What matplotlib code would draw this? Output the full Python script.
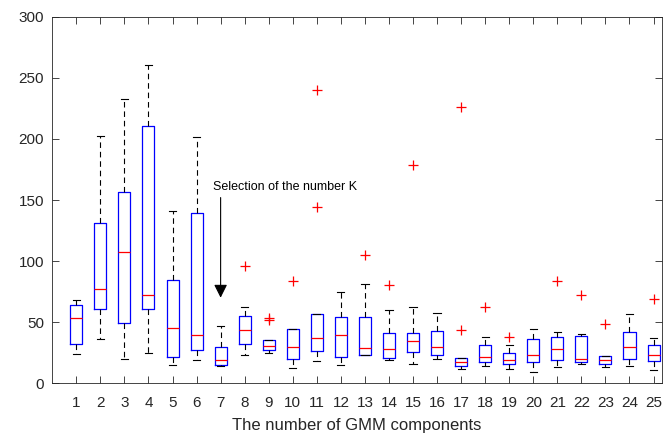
import matplotlib
matplotlib.use("Agg")
import matplotlib.pyplot as plt

plt.rcParams['font.family'] = ['Liberation Sans', 'DejaVu Sans']

# number of GMM components
components = list(range(1, 26))

# box statistics
whisker_low = [24.0, 36.5, 19.5, 24.5, 14.8, 19.1, 14.2, 22.9, 24.5, 12.6,
               18.5, 15.2, 22.9, 18.8, 15.9, 19.9, 11.7, 14.2, 11.5, 9.5,
               13.6, 16.0, 13.3, 13.9, 11.1]
q1 = [32.2, 60.5, 49.1, 61.0, 21.5, 27.2, 15.0, 32.2, 27.0, 19.8,
      26.2, 21.3, 22.9, 20.7, 25.9, 22.9, 13.9, 17.4, 15.5, 17.2,
      18.8, 17.7, 15.8, 19.9, 18.5]
medians = [53.2, 77.2, 107.2, 72.3, 44.8, 39.5, 18.8, 43.4, 30.3, 29.7,
           37.1, 39.8, 28.6, 27.8, 34.9, 30.0, 17.2, 21.5, 18.8, 23.2,
           28.1, 19.9, 19.3, 29.7, 23.2]
q3 = [63.8, 130.9, 156.8, 210.6, 84.5, 139.4, 30.0, 54.8, 35.4, 44.4,
      56.4, 54.0, 54.5, 41.4, 41.2, 43.0, 20.4, 31.6, 24.5, 36.0,
      38.2, 38.5, 22.6, 41.7, 31.6]
whisker_high = [68.4, 202.6, 232.4, 260.5, 141.2, 201.8, 46.9, 62.7, 35.4, 44.4,
                56.4, 74.5, 81.5, 60.2, 62.8, 57.8, 20.4, 37.6, 31.3, 44.7,
                42.2, 40.1, 22.6, 57.0, 37.3]
outliers = [[], [], [], [], [], [], [], [96.0], [52.0, 53.0], [83.5],
            [144.0, 240.0], [], [104.7], [80.6], [178.9], [], [43.4, 225.9],
            [62.7], [37.9], [], [84.0], [72.3], [48.5], [], [69.2]]

stats = []
for i in range(len(components)):
    stats.append(dict(med=medians[i], q1=q1[i], q3=q3[i],
                      whislo=whisker_low[i], whishi=whisker_high[i],
                      fliers=outliers[i]))

fig = plt.figure(figsize=(6.7, 4.42), dpi=100)
ax = fig.add_axes([0.078, 0.133, 0.91, 0.829])

axis_grey = (0.15, 0.15, 0.15)

ax.bxp(stats, positions=components, widths=0.5, capwidths=0.3,
       boxprops=dict(color='blue', linewidth=0.9),
       medianprops=dict(color='red', linewidth=0.9),
       whiskerprops=dict(color='black', linestyle=(0, (5, 3.5)), linewidth=0.8),
       capprops=dict(color='black', linewidth=0.8),
       flierprops=dict(marker='+', markeredgecolor='red', markersize=7,
                       markeredgewidth=0.9, linestyle='none'))

# vertical arrow pointing at K = 7, text just above it
ax.annotate("", xy=(7, 70), xytext=(7, 152),
            arrowprops=dict(arrowstyle='-|>', color='black', lw=0.8,
                            mutation_scale=20, shrinkA=0, shrinkB=0))
ax.text(6.68, 161, "Selection of the number K", fontsize=9,
        va='center', ha='left')

ax.set_xlim(0, 25.35)
ax.set_ylim(0, 300)
ax.set_xticks(components)
ax.set_xticklabels([str(c) for c in components])
ax.set_yticks(range(0, 301, 50))

ax.tick_params(direction='in', top=True, right=True, length=5, width=0.6,
               labelsize=11, colors=axis_grey)
ax.tick_params(axis='x', pad=9)
ax.tick_params(axis='y', pad=6)
for s in ax.spines.values():
    s.set_color(axis_grey)
    s.set_linewidth(0.6)

ax.set_xlabel("The number of GMM components", fontsize=12, color=axis_grey,
              labelpad=6)
ax.set_ylabel("RRT execution time", fontsize=12, color=axis_grey)
ax.yaxis.set_label_coords(-0.082, 0.52)

fig.savefig("out.png", dpi=100)
